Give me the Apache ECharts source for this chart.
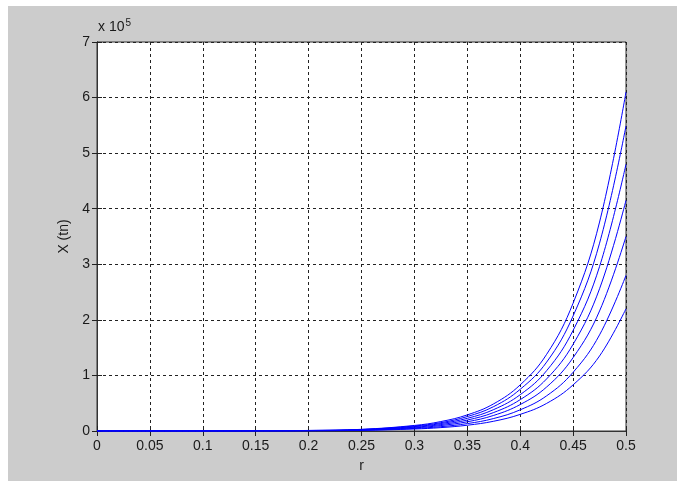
<!DOCTYPE html>
<html>
<head>
<meta charset="utf-8">
<script src="https://cdn.jsdelivr.net/npm/echarts@6/dist/echarts.min.js"></script>
<style>
html,body{margin:0;padding:0;background:#fff;}
#c{position:absolute;left:8px;top:6px;width:669px;height:475px;}
</style>
</head>
<body>
<div id="c"></div>
<script>
// r values (x axis)
var rValues = [0, 0.05, 0.1, 0.15, 0.2, 0.25, 0.3, 0.325, 0.35, 0.375, 0.4, 0.425, 0.45, 0.475, 0.5];
// X(tn) values in units of 10^5, one array per curve
var curve1 = [0, 0, 0, 0.003, 0.010, 0.030, 0.100, 0.170, 0.290, 0.490, 0.830, 1.380, 2.300, 3.760, 6.100];
var curve2 = [0, 0, 0, 0.003, 0.009, 0.027, 0.090, 0.150, 0.260, 0.440, 0.750, 1.240, 2.070, 3.380, 5.490];
var curve3 = [0, 0, 0, 0.002, 0.007, 0.024, 0.079, 0.134, 0.228, 0.386, 0.653, 1.086, 1.810, 2.960, 4.800];
var curve4 = [0, 0, 0, 0.002, 0.006, 0.020, 0.068, 0.116, 0.197, 0.333, 0.564, 0.938, 1.560, 2.560, 4.150];
var curve5 = [0, 0, 0, 0.002, 0.005, 0.017, 0.057, 0.098, 0.166, 0.281, 0.476, 0.792, 1.320, 2.160, 3.500];
var curve6 = [0, 0, 0, 0.001, 0.004, 0.014, 0.046, 0.078, 0.133, 0.225, 0.381, 0.633, 1.056, 1.730, 2.800];
var curve7 = [0, 0, 0, 0.001, 0.003, 0.011, 0.036, 0.061, 0.104, 0.176, 0.299, 0.497, 0.830, 1.350, 2.200];
var curves = [curve1, curve2, curve3, curve4, curve5, curve6, curve7];
// tick labels
var xTickLabels = ['0', '0.05', '0.1', '0.15', '0.2', '0.25', '0.3', '0.35', '0.4', '0.45', '0.5'];
var yTickLabels = ['0', '1', '2', '3', '4', '5', '6', '7'];
var xName = 'r';
var yName = 'X (tn)';
var exponentLabel = 'x 10';
var exponentValue = '5';

var chart = echarts.init(document.getElementById('c'), null, {renderer: 'canvas'});
var font = '"Liberation Sans", Arial, sans-serif';
var textColor = '#1a1a1a';
var gridLine = {show: true, lineStyle: {color: '#222', type: [3, 3], width: 1}};

function makeSeries() {
  return curves.map(function (vals, k) {
    return {
      type: 'line',
      name: 'c' + (k + 1),
      data: rValues.map(function (r, i) { return [r, vals[i]]; }),
      showSymbol: false,
      smooth: 0.4,
      lineStyle: {color: '#0000ff', width: 1},
      itemStyle: {color: '#0000ff'},
      z: 3
    };
  });
}

chart.setOption({
  backgroundColor: '#cccccc',
  animation: false,
  grid: {left: 89, top: 36, right: 51, bottom: 50, show: true, backgroundColor: '#ffffff', borderColor: '#333', borderWidth: 1},
  xAxis: [{
    type: 'value', min: 0, max: 0.5, interval: 0.05,
    name: xName, nameLocation: 'middle', nameGap: 28,
    nameTextStyle: {fontFamily: font, fontSize: 14, color: textColor},
    axisLine: {show: true, lineStyle: {color: '#333'}},
    axisTick: {show: true, inside: true, length: 5, lineStyle: {color: '#222'}},
    axisLabel: {fontFamily: font, fontSize: 14, color: textColor, margin: 8,
      formatter: function (v, idx) { return xTickLabels[Math.round(v / 0.05)]; }},
    splitLine: gridLine
  }, {
    type: 'value', min: 0, max: 0.5, interval: 0.05, position: 'top',
    axisLine: {show: true, lineStyle: {color: '#333'}},
    axisTick: {show: true, inside: true, length: 5, lineStyle: {color: '#222'}},
    axisLabel: {show: false}, splitLine: {show: false}
  }],
  yAxis: [{
    type: 'value', min: 0, max: 7, interval: 1,
    name: yName, nameLocation: 'middle', nameGap: 26, nameRotate: 90,
    nameTextStyle: {fontFamily: font, fontSize: 14, color: textColor},
    axisLine: {show: true, lineStyle: {color: '#333'}},
    axisTick: {show: true, inside: true, length: 5, lineStyle: {color: '#222'}},
    axisLabel: {fontFamily: font, fontSize: 14, color: textColor, margin: 7,
      formatter: function (v) { return yTickLabels[Math.round(v)]; }},
    splitLine: gridLine
  }, {
    type: 'value', min: 0, max: 7, interval: 1, position: 'right',
    axisLine: {show: true, lineStyle: {color: '#333'}},
    axisTick: {show: true, inside: true, length: 5, lineStyle: {color: '#222'}},
    axisLabel: {show: false}, splitLine: {show: false}
  }],
  graphic: [{
    type: 'text', left: 90, top: 12, z: 10,
    style: {
      text: exponentLabel + '{sup|' + exponentValue + '}',
      fontFamily: font, fontSize: 14, fill: textColor,
      rich: {sup: {fontFamily: font, fontSize: 10, fill: textColor, verticalAlign: 'top', padding: [0, 0, 9, 1]}}
    }
  }],
  series: makeSeries()
});
</script>
</body>
</html>
